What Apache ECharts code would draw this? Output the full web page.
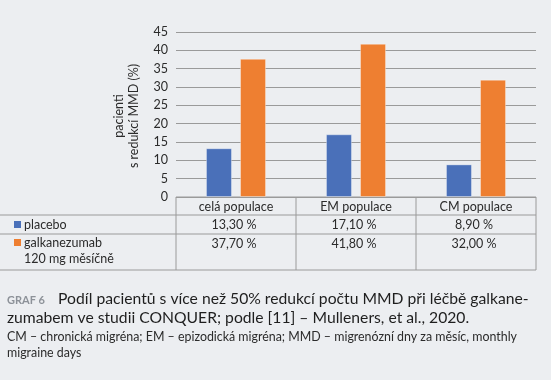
<!DOCTYPE html>
<html><head><meta charset="utf-8">
<script src="https://cdn.jsdelivr.net/npm/echarts@6/dist/echarts.min.js"></script>
<style>html,body{margin:0;padding:0;background:#eceef1;}#c{width:551px;height:380px;}</style>
</head><body><div id="c"></div>
<script>
const categories = ['celá populace', 'EM populace', 'CM populace'];
const placebo = [13.3, 17.1, 8.9];
const galkanezumab = [37.7, 41.8, 32.0];
const placeboLabels = ['13,30 %', '17,10 %', '8,90 %'];
const galkLabels = ['37,70 %', '41,80 %', '32,00 %'];
const seriesNames = ['placebo', 'galkanezumab\n120 mg měsíčně'];
const yTicks = [0, 5, 10, 15, 20, 25, 30, 35, 40, 45];
const yTitle = 'pacienti\ns redukcí MMD (%)';
const captionLabel = 'GRAF 6';
const captionLines = ['Podíl pacientů s více než 50% redukcí počtu MMD při léčbě galkane-', 'zumabem ve studii CONQUER; podle [11] – Mulleners, et al., 2020.'];
const noteLines = ['CM – chronická migréna; EM – epizodická migréna; MMD – migrenózní dny za měsíc, monthly', 'migraine days'];

const FONT = 'Lato';
const TXT = '#2b2b2b';
const LINE = '#9a9a9a';
const BLUE = '#4a70b9';
const ORANGE = '#ee7f31';
const W = 551, H = 380;
const gL = 176, gR = 536, gT = 32, gB = 197;
const colW = (gR - gL) / categories.length;
const rows = [197, 215, 234, 270];
const TF = '12.5px ' + FONT;

const chart = echarts.init(document.getElementById('c'), null, {renderer: 'canvas'});

const g = [];
g.push({type: 'line', shape: {x1: gL, y1: rows[0], x2: gR, y2: rows[0]}, style: {stroke: LINE, lineWidth: 1}});
for (let i = 1; i < rows.length; i++) {
  g.push({type: 'line', shape: {x1: 0, y1: rows[i], x2: gR, y2: rows[i]}, style: {stroke: LINE, lineWidth: 1}});
}
for (let i = 0; i <= categories.length; i++) {
  const x = gL + i * colW;
  g.push({type: 'line', shape: {x1: x, y1: rows[0], x2: x, y2: rows[3]}, style: {stroke: LINE, lineWidth: 1}});
}
categories.forEach((c, i) => {
  const cx = gL + (i + 0.5) * colW;
  g.push({type: 'text', x: cx, y: 206.5, style: {text: c, font: TF, fill: TXT, align: 'center', verticalAlign: 'middle'}});
  g.push({type: 'text', x: cx - 2, y: 224.5, style: {text: placeboLabels[i], font: TF, fill: TXT, align: 'center', verticalAlign: 'middle'}});
  g.push({type: 'text', x: cx - 2, y: 243.5, style: {text: galkLabels[i], font: TF, fill: TXT, align: 'center', verticalAlign: 'middle'}});
});
g.push({type: 'rect', shape: {x: 14, y: 221, width: 7, height: 7}, style: {fill: BLUE}});
g.push({type: 'text', x: 24, y: 224.5, style: {text: seriesNames[0], font: TF, fill: TXT, align: 'left', verticalAlign: 'middle'}});
g.push({type: 'rect', shape: {x: 14, y: 239, width: 7, height: 7}, style: {fill: ORANGE}});
g.push({type: 'text', x: 24, y: 235, style: {text: seriesNames[1], font: TF, fill: TXT, align: 'left', verticalAlign: 'top', lineHeight: 16}});
g.push({type: 'text', x: 126, y: 116, rotation: Math.PI / 2, style: {text: yTitle, font: TF, fill: TXT, align: 'center', verticalAlign: 'middle', lineHeight: 15}});
g.push({type: 'text', x: 7, y: 300, style: {text: captionLabel, font: 'bold 11px ' + FONT, fill: '#8d9299', align: 'left', verticalAlign: 'middle'}});
g.push({type: 'text', x: 58, y: 299, style: {text: captionLines[0], font: '15.7px ' + FONT, fill: '#1e1e1e', align: 'left', verticalAlign: 'middle'}});
g.push({type: 'text', x: 7, y: 318, style: {text: captionLines[1], font: '15.7px ' + FONT, fill: '#1e1e1e', align: 'left', verticalAlign: 'middle'}});
g.push({type: 'text', x: 7, y: 337, style: {text: noteLines[0], font: '12.4px ' + FONT, fill: TXT, align: 'left', verticalAlign: 'middle'}});
g.push({type: 'text', x: 7, y: 353, style: {text: noteLines[1], font: '12.4px ' + FONT, fill: TXT, align: 'left', verticalAlign: 'middle'}});

chart.setOption({
  backgroundColor: '#eceef1',
  animation: false,
  grid: {left: gL, right: W - gR, top: gT, bottom: H - gB, containLabel: false},
  xAxis: {type: 'category', data: categories, axisLine: {show: false}, axisTick: {show: false}, axisLabel: {show: false}, splitLine: {show: false}},
  yAxis: {type: 'value', min: yTicks[0], max: yTicks[yTicks.length - 1], interval: 5,
    axisLine: {show: false}, axisTick: {show: false},
    axisLabel: {margin: 8, fontFamily: FONT, fontSize: 12.5, color: TXT},
    splitLine: {lineStyle: {color: LINE, width: 1}}},
  series: [
    {name: 'placebo', type: 'bar', data: placebo, barWidth: 26, barGap: '31%', itemStyle: {color: BLUE, borderColor: 'rgba(255,255,255,0.35)', borderWidth: 1}},
    {name: 'galkanezumab', type: 'bar', data: galkanezumab, barWidth: 26, itemStyle: {color: ORANGE, borderColor: 'rgba(255,255,255,0.35)', borderWidth: 1}}
  ],
  graphic: g
});
</script></body></html>
